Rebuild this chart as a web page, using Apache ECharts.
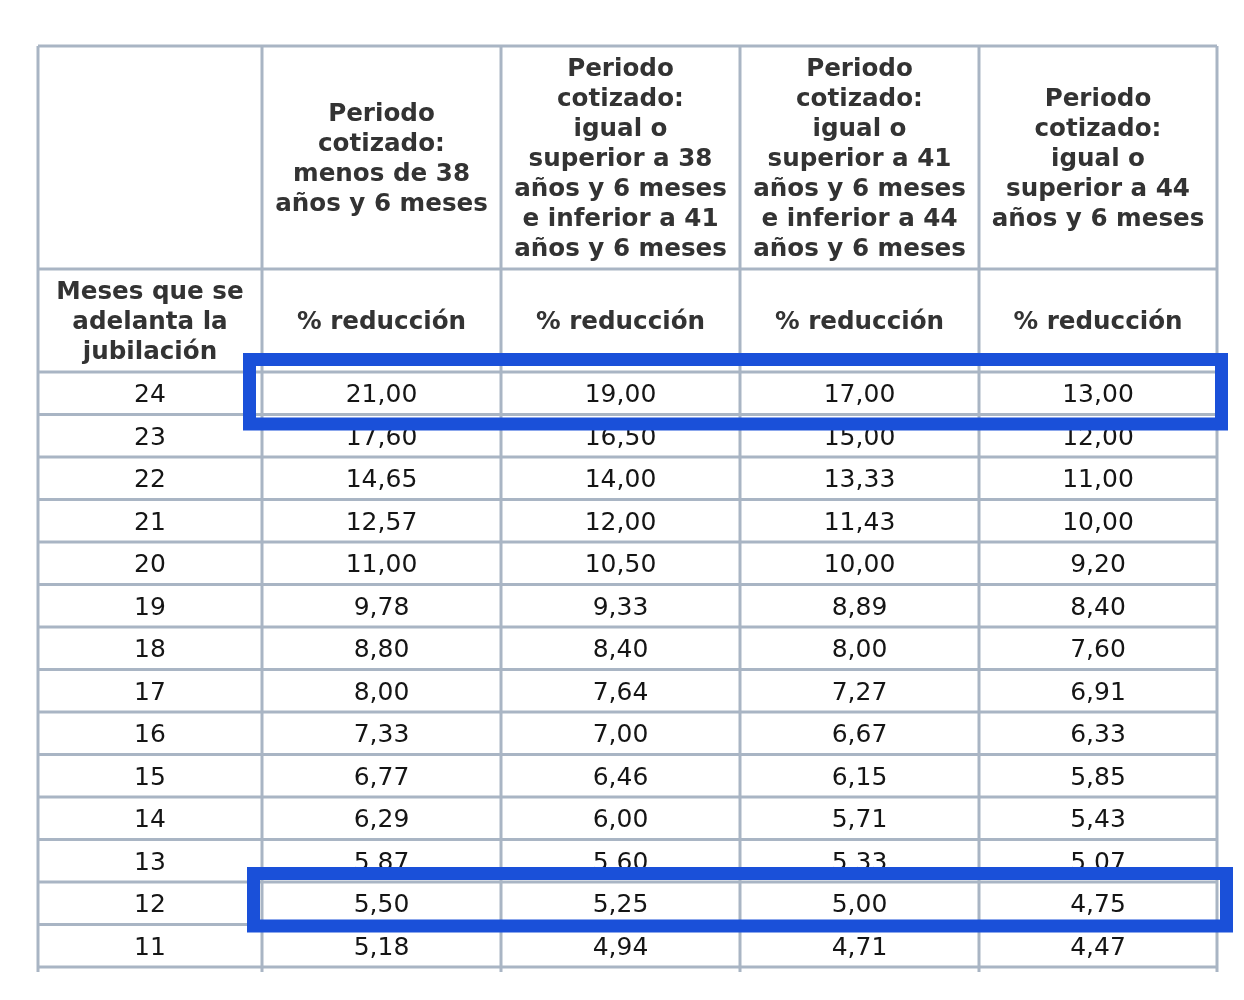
<!DOCTYPE html>
<html>
<head>
<meta charset="utf-8">
<script src="https://cdn.jsdelivr.net/npm/echarts@6/dist/echarts.min.js"></script>
<style>
  html, body { margin: 0; padding: 0; background: #fff; }
  #tabla { width: 1244px; height: 1000px; }
</style>
</head>
<body>
<div id="tabla"></div>
<script>
// cabeceras
const colHeads = [
  '',
  'Periodo\ncotizado:\nmenos de 38\naños y 6 meses',
  'Periodo\ncotizado:\nigual o\nsuperior a 38\naños y 6 meses\ne inferior a 41\naños y 6 meses',
  'Periodo\ncotizado:\nigual o\nsuperior a 41\naños y 6 meses\ne inferior a 44\naños y 6 meses',
  'Periodo\ncotizado:\nigual o\nsuperior a 44\naños y 6 meses'
];
const subHeads = ['Meses que se\nadelanta la\njubilación', '% reducción', '% reducción', '% reducción', '% reducción'];

// datos
const months = ['24', '23', '22', '21', '20', '19', '18', '17', '16', '15', '14', '13', '12', '11'];
const pctMenos38 = [21.00, 17.60, 14.65, 12.57, 11.00, 9.78, 8.80, 8.00, 7.33, 6.77, 6.29, 5.87, 5.50, 5.18];
const pct38a41 = [19.00, 16.50, 14.00, 12.00, 10.50, 9.33, 8.40, 7.64, 7.00, 6.46, 6.00, 5.60, 5.25, 4.94];
const pct41a44 = [17.00, 15.00, 13.33, 11.43, 10.00, 8.89, 8.00, 7.27, 6.67, 6.15, 5.71, 5.33, 5.00, 4.71];
const pct44mas = [13.00, 12.00, 11.00, 10.00, 9.20, 8.40, 7.60, 6.91, 6.33, 5.85, 5.43, 5.07, 4.75, 4.47];
const highlighted = ['24', '12'];

// layout (px dentro del grid)
const colEdges = [0, 224, 463, 702, 941, 1179];
const rowEdges = [0, 223, 326];
for (let i = 0; i < months.length; i++) rowEdges.push(326 + 42.5 * (i + 1));
const tableBottom = 926;
const boxPads = [
  { l: 12.5, r: 4.5, t: 12.5, b: 9.5 },
  { l: 8.5, r: 9.5, t: 8.5, b: 1.5 }
];

function fmt(v) {
  return v.toFixed(2).replace('.', ',');
}

// celdas: [col, fila, texto, negrita]
let cells = [];
for (let c = 0; c < 5; c++) {
  cells.push([c, 0, colHeads[c], true]);
  cells.push([c, 1, subHeads[c], true]);
}
const cols = [pctMenos38, pct38a41, pct41a44, pct44mas];
for (let r = 0; r < months.length; r++) {
  cells.push([0, r + 2, months[r], false]);
  for (let c = 0; c < cols.length; c++) {
    cells.push([c + 1, r + 2, fmt(cols[c][r]), false]);
  }
}

// lineas
let lines = [];
for (let i = 0; i < colEdges.length; i++) lines.push([colEdges[i], 0, colEdges[i], tableBottom]);
for (let j = 0; j < rowEdges.length; j++) lines.push([0, rowEdges[j], colEdges[5], rowEdges[j]]);

let chart = echarts.init(document.getElementById('tabla'));
let option = {
  animation: false,
  grid: { left: 38, top: 46, width: 1179, height: tableBottom },
  xAxis: { type: 'value', min: 0, max: 1179, show: false },
  yAxis: { type: 'value', min: 0, max: tableBottom, inverse: true, show: false },
  series: [
    {
      type: 'custom',
      clip: false,
      data: lines.map((l, i) => [i]),
      renderItem: function (params, api) {
        let l = lines[params.dataIndex];
        let p0 = api.coord([l[0], l[1]]);
        let p1 = api.coord([l[2], l[3]]);
        return {
          type: 'line',
          shape: { x1: p0[0], y1: p0[1], x2: p1[0], y2: p1[1] },
          style: { stroke: '#a9b5c4', lineWidth: 3 }
        };
      },
      z: 1
    },
    {
      type: 'custom',
      clip: false,
      data: cells.map((c, i) => [i]),
      renderItem: function (params, api) {
        let c = cells[params.dataIndex];
        let x0 = colEdges[c[0]], x1 = colEdges[c[0] + 1];
        let y0 = rowEdges[c[1]], y1 = rowEdges[c[1] + 1];
        let p = api.coord([(x0 + x1) / 2, (y0 + y1) / 2]);
        return {
          type: 'text',
          x: p[0],
          y: p[1] + 2.5,
          style: {
            text: c[2],
            fontFamily: 'DejaVu Sans',
            fontSize: c[3] ? 24.6 : 25,
            fontWeight: c[3] ? 'bold' : 'normal',
            lineHeight: 30,
            fill: c[3] ? '#333333' : '#151515',
            align: 'center',
            verticalAlign: 'middle'
          }
        };
      },
      z: 2
    },
    {
      type: 'custom',
      clip: false,
      data: highlighted.map((h, i) => [i]),
      renderItem: function (params, api) {
        let r = months.indexOf(highlighted[params.dataIndex]) + 2;
        let pad = boxPads[params.dataIndex];
        let p0 = api.coord([colEdges[1] - pad.l, rowEdges[r] - pad.t]);
        let p1 = api.coord([colEdges[5] + pad.r, rowEdges[r + 1] + pad.b]);
        return {
          type: 'rect',
          shape: { x: p0[0], y: p0[1], width: p1[0] - p0[0], height: p1[1] - p0[1] },
          style: { fill: null, stroke: '#1a50d9', lineWidth: 13 }
        };
      },
      z: 3
    }
  ]
};
chart.setOption(option);
</script>
</body>
</html>
